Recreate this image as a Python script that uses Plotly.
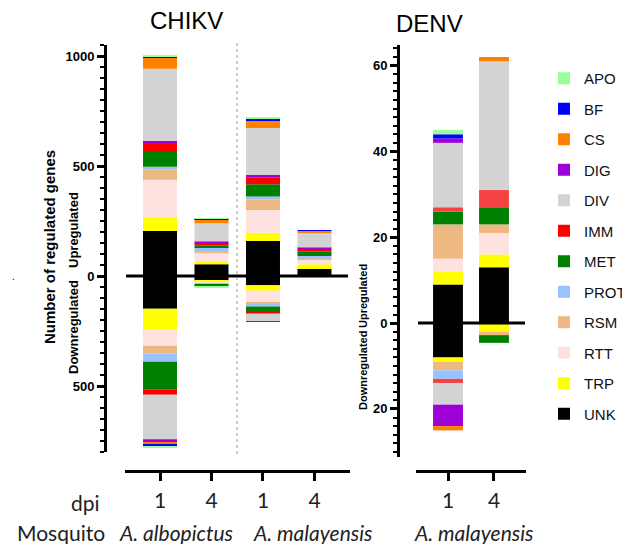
import plotly.graph_objects as go

# The page body has an 8px margin: the figure is drawn 8px smaller and all
# positions below are given in window pixels, shifted by that margin.
OFF = 8
W, H = 630 - OFF, 544 - OFF

# ---------------- data ----------------
categories = ["APO", "BF", "CS", "DIG", "DIV", "IMM", "MET", "PROT", "RSM", "RTT", "TRP", "UNK"]
colors = {"APO": "#99FF99", "BF": "#0000FF", "CS": "#FF8000", "DIG": "#A000D8", "DIV": "#D3D3D3",
          "IMM": "#FF0000", "MET": "#008000", "PROT": "#99C2FF", "RSM": "#EDB882", "RTT": "#FDE2E0",
          "TRP": "#FFFF00", "UNK": "#000000"}

# CHIKV bars: A. albopictus 1 dpi, 4 dpi, A. malayensis 1 dpi, 4 dpi
chikv_dpi = ["1", "4", "1", "4"]
chikv_up = {
    "APO": [9, 1, 6, 0], "BF": [4, 2, 6, 4], "CS": [50, 18, 36, 11], "DIG": [9, 9, 12, 5],
    "DIV": [327, 82, 214, 65], "IMM": [38, 11, 30, 14], "MET": [71, 8, 56, 19],
    "PROT": [12, 16, 12, 11], "RSM": [47, 11, 49, 7], "RTT": [170, 36, 103, 20],
    "TRP": [63, 14, 38, 21], "UNK": [205, 53, 159, 32],
}
chikv_down = {
    "APO": [7, 3, 0, 0], "BF": [5, 0, 0, 0], "CS": [14, 0, 0, 0], "DIG": [12, 0, 4, 0],
    "DIV": [202, 0, 35, 0], "IMM": [25, 0, 6, 0], "MET": [125, 9, 25, 0],
    "PROT": [38, 6, 12, 0], "RSM": [35, 0, 7, 0], "RTT": [76, 4, 53, 0],
    "TRP": [92, 9, 25, 0], "UNK": [149, 20, 42, 0],
}
# DENV bars: A. malayensis 1 dpi, 4 dpi
denv_dpi = ["1", "4"]
denv_up = {
    "APO": [1, 0], "BF": [1, 0], "CS": [0, 1], "DIG": [1, 0], "DIV": [15, 30], "IMM": [1, 4],
    "MET": [3, 4], "PROT": [0, 0], "RSM": [8, 2], "RTT": [3, 5], "TRP": [3, 3], "UNK": [9, 13],
}
denv_down = {
    "APO": [0, 0], "BF": [0, 0], "CS": [1, 0], "DIG": [5, 0], "DIV": [5, 0], "IMM": [1, 0],
    "MET": [0, 1.8], "PROT": [2, 0], "RSM": [2, 0.8], "RTT": [0, 0], "TRP": [1, 2], "UNK": [8, 0],
}
mosquito_labels = ["A. albopictus", "A. malayensis", "A. malayensis"]

# stacking orders (from the zero line outwards)
order_chikv_up = ["UNK", "TRP", "RTT", "RSM", "PROT", "MET", "IMM", "DIG", "DIV", "CS", "BF", "APO"]
order_other = ["UNK", "TRP", "RTT", "RSM", "PROT", "MET", "IMM", "DIV", "DIG", "CS", "BF", "APO"]

def px_x(p):
    return (p - OFF) / W

def px_y(p):
    return 1 - (p - OFF) / H

fig = go.Figure()

# legend entries
for c in categories:
    fig.add_trace(go.Bar(x=[None], y=[None], name=c, legendgroup=c,
                         marker=dict(color=colors[c], line=dict(width=0)),
                         xaxis="x", yaxis="y", showlegend=True))

def add_stack(data, order, xs, sign, xa, ya, width, color_override=None):
    for c in order:
        vals = [sign * v for v in data[c]]
        col = colors[c]
        if color_override and c in color_override:
            col = color_override[c]
        fig.add_trace(go.Bar(x=xs, y=vals, name=c, legendgroup=c, showlegend=False,
                             marker=dict(color=col, line=dict(width=0)), width=width,
                             xaxis=xa, yaxis=ya, hovertemplate=c + ": %{y}<extra></extra>"))

cx = list(range(len(chikv_dpi)))
dx = list(range(len(denv_dpi)))
add_stack(chikv_up, order_chikv_up, cx, 1, "x", "y", 0.66)
add_stack(chikv_down, order_other, cx, -1, "x", "y", 0.66)
add_stack(denv_up, order_other, dx, 1, "x2", "y2", 0.65, {"IMM": "#F44242"})
add_stack(denv_down, order_other, dx, -1, "x2", "y2", 0.65, {"IMM": "#F44242"})

tickfont_y = dict(family="Liberation Sans, Arial", size=13, color="black", weight="bold")
tickfont_x = dict(family="Lato", size=21, color="#222")
xpos = px_y(470.5)

axis_common_y = dict(showline=True, linewidth=3, linecolor="black", ticks="outside", ticklen=7,
                     tickwidth=2.5, tickcolor="black", showgrid=False, zeroline=False,
                     tickfont=tickfont_y, anchor="free")
axis_common_x = dict(showline=True, linewidth=3, linecolor="black", ticks="outside", ticklen=8,
                     tickwidth=3, tickcolor="black", showgrid=False, zeroline=False,
                     tickfont=tickfont_x, anchor="free", position=xpos, ticklabelstandoff=2)

fig.update_layout(
    width=W, height=H,
    margin=dict(l=0, r=0, t=0, b=0, autoexpand=False),
    paper_bgcolor="white", plot_bgcolor="white",
    barmode="relative",
    showlegend=True,
    legend=dict(x=px_x(544), y=px_y(62), xanchor="left", yanchor="top",
                font=dict(family="Liberation Sans, Arial", size=15, color="#111"),
                traceorder="grouped", tracegroupgap=8,
                bgcolor="rgba(0,0,0,0)"),
    xaxis=dict(domain=[px_x(125), px_x(350)], range=[-0.68, 3.69], tickmode="array",
               tickvals=cx, ticktext=chikv_dpi, **axis_common_x),
    yaxis=dict(domain=[px_y(452), px_y(45)], range=[-800, 1050], position=px_x(105),
               tickmode="array", tickvals=[-500, 0, 500, 1000], ticktext=["500", "0", "500", "1000"],
               minor=dict(tickmode="linear", tick0=0, dtick=50, ticklen=4, tickwidth=2,
                          ticks="outside", tickcolor="black"),
               **axis_common_y),
    xaxis2=dict(domain=[px_x(416), px_x(526)], range=[-0.696, 1.696], tickmode="array",
                tickvals=dx, ticktext=denv_dpi, **axis_common_x),
    yaxis2=dict(domain=[px_y(457), px_y(45)], range=[-31.2, 64.8], position=px_x(398),
                tickmode="array", tickvals=[-20, 0, 20, 40, 60], ticktext=["20", "0", "20", "40", "60"],
                minor=dict(tickmode="linear", tick0=0, dtick=2, ticklen=4, tickwidth=2,
                           ticks="outside", tickcolor="black"),
                **axis_common_y),
)

shapes = [
    dict(type="line", xref="paper", yref="y", x0=px_x(126), x1=px_x(348), y0=0, y1=0,
         line=dict(color="black", width=3)),
    dict(type="line", xref="paper", yref="y2", x0=px_x(418), x1=px_x(525), y0=0, y1=0,
         line=dict(color="black", width=3)),
    dict(type="line", xref="paper", yref="paper", x0=px_x(237), x1=px_x(237), y0=px_y(454), y1=px_y(43),
         line=dict(color="#999", width=1, dash="dot")),
]
fig.update_layout(shapes=shapes)

arial = "Liberation Sans, Arial"
ann = []
def a(text, x, y, size, family=arial, weight="normal", angle=0, xanchor="center", color="black"):
    ann.append(dict(text=text, x=px_x(x), y=px_y(y), xref="paper", yref="paper", showarrow=False,
                    textangle=angle, xanchor=xanchor, yanchor="middle",
                    font=dict(family=family, size=size, color=color, weight=weight)))

a("CHIKV", 186, 21, 24)
a("DENV", 429, 23, 24)
a("Number of regulated genes", 50, 247, 15, weight="bold", angle=-90)
a("Upregulated", 73, 230, 13, weight="bold", angle=-90)
a("Downregulated", 73, 327, 13, weight="bold", angle=-90)
a("Upregulated", 363, 296, 11, weight="bold", angle=-90)
a("Downregulated", 363, 371, 11, weight="bold", angle=-90)
a(".", 13, 276, 10)
a("dpi", 102, 502, 21, family="Lato", xanchor="right", color="#222")
a("Mosquito", 15, 532, 21, family="Lato", xanchor="left", color="#222")
for lab, xc in zip(mosquito_labels, [176, 312, 473]):
    a("<i>" + lab + "</i>", xc, 532, 21, family="Lato", color="#222")
fig.update_layout(annotations=ann)

fig.write_html("out.html")
